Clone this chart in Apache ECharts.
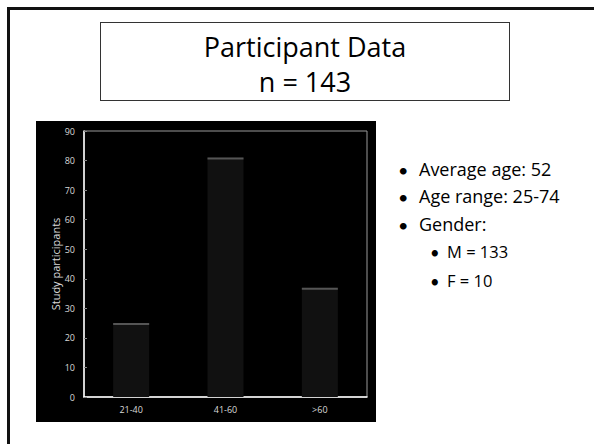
<!DOCTYPE html>
<html>
<head>
<meta charset="utf-8">
<script src="https://cdn.jsdelivr.net/npm/echarts@6/dist/echarts.min.js"></script>
<style>
  html, body { margin:0; padding:0; background:#fff; width:594px; height:444px; overflow:hidden; font-family: "Open Sans", Lato, sans-serif; }
  #slide { position:absolute; left:7px; top:7px; width:640px; height:500px; border-left:3px solid #111; border-top:3px solid #111; box-sizing:border-box; }
  #titlebox { position:absolute; left:100px; top:22px; width:410px; height:79px; border:1px solid #333; box-sizing:border-box; }
  .tline { position:absolute; left:100px; width:410px; text-align:center; font-size:27px; line-height:1; color:#000; white-space:nowrap; }
  .bl { position:absolute; line-height:1; color:#000; white-space:nowrap; }
  .dot { font-family: Lato, sans-serif; }
  #chart { position:absolute; left:36px; top:121px; width:340px; height:301px; background:#000; }
</style>
</head>
<body>
<div id="slide"></div>
<div id="titlebox"></div>
<div id="titles"></div>
<div id="bullets"></div>
<div id="chart"></div>
<script>
// ---- data ----
const categories = ['21-40', '41-60', '>60'];
const participants = [25, 81, 37];
const yMin = 0, yMax = 90, yInterval = 10;
const yAxisName = 'Study participants';
const titleLines = ['Participant Data', 'n = 143'];
const bulletMain = ['Average age: 52', 'Age range: 25-74', 'Gender:'];
const bulletSub = ['M = 133', 'F = 10'];

// ---- slide text ----
const titleTops = [32.5, 67.5];
const tDiv = document.getElementById('titles');
titleLines.forEach((t, i) => {
  const d = document.createElement('div');
  d.className = 'tline';
  d.style.top = titleTops[i] + 'px';
  d.textContent = t;
  tDiv.appendChild(d);
});

const bDiv = document.getElementById('bullets');
function addBullet(text, top, bulletLeft, textLeft, size) {
  const b = document.createElement('div');
  b.className = 'bl dot';
  b.style.left = bulletLeft + 'px';
  b.style.top = (top + 1) + 'px';
  b.style.fontSize = size + 'px';
  b.textContent = '\u2022';
  bDiv.appendChild(b);
  const t = document.createElement('div');
  t.className = 'bl';
  t.style.left = textLeft + 'px';
  t.style.top = top + 'px';
  t.style.fontSize = size + 'px';
  t.textContent = text;
  bDiv.appendChild(t);
}
const mainTops = [160, 187, 215];
bulletMain.forEach((t, i) => addBullet(t, mainTops[i], 398, 419, 18));
const subTops = [243.5, 272.5];
bulletSub.forEach((t, i) => addBullet(t, subTops[i], 430, 447, 16.5));

// ---- chart ----
const chart = echarts.init(document.getElementById('chart'), null, { renderer: 'svg' });
const labelColor = '#d9d9d9';
const chartFont = 'Open Sans';
chart.setOption({
  backgroundColor: '#000',
  animation: false,
  textStyle: { fontFamily: chartFont },
  grid: { left: 48, top: 10, right: 9, bottom: 25, show: true, borderColor: '#9a9a9a', borderWidth: 1 },
  xAxis: {
    type: 'category',
    data: categories,
    axisLine: { lineStyle: { color: '#ffffff', width: 1.5 } },
    axisTick: { inside: true, length: 3, lineStyle: { color: '#888' } },
    axisLabel: { color: labelColor, fontSize: 9, fontFamily: chartFont, margin: 8 }
  },
  yAxis: {
    type: 'value',
    min: yMin, max: yMax, interval: yInterval,
    name: yAxisName,
    nameLocation: 'middle',
    nameRotate: 90,
    nameGap: 23,
    nameMoveOverlap: false,
    nameTextStyle: { color: labelColor, fontSize: 11, fontFamily: chartFont },
    axisLine: { show: true, lineStyle: { color: '#ffffff', width: 1.5 } },
    axisTick: { show: true, inside: true, length: 3, lineStyle: { color: '#888' } },
    splitLine: { show: false },
    axisLabel: { color: labelColor, fontSize: 9, fontFamily: chartFont, margin: 9 }
  },
  series: [
    { type: 'bar', data: participants, barWidth: 36, itemStyle: { color: '#111111' }, z: 2 },
    { type: 'pictorialBar', data: participants, symbol: 'rect', symbolSize: [36, 2],
      symbolPosition: 'end', barGap: '-100%', itemStyle: { color: '#555555' }, z: 3 }
  ]
});
</script>
</body>
</html>
